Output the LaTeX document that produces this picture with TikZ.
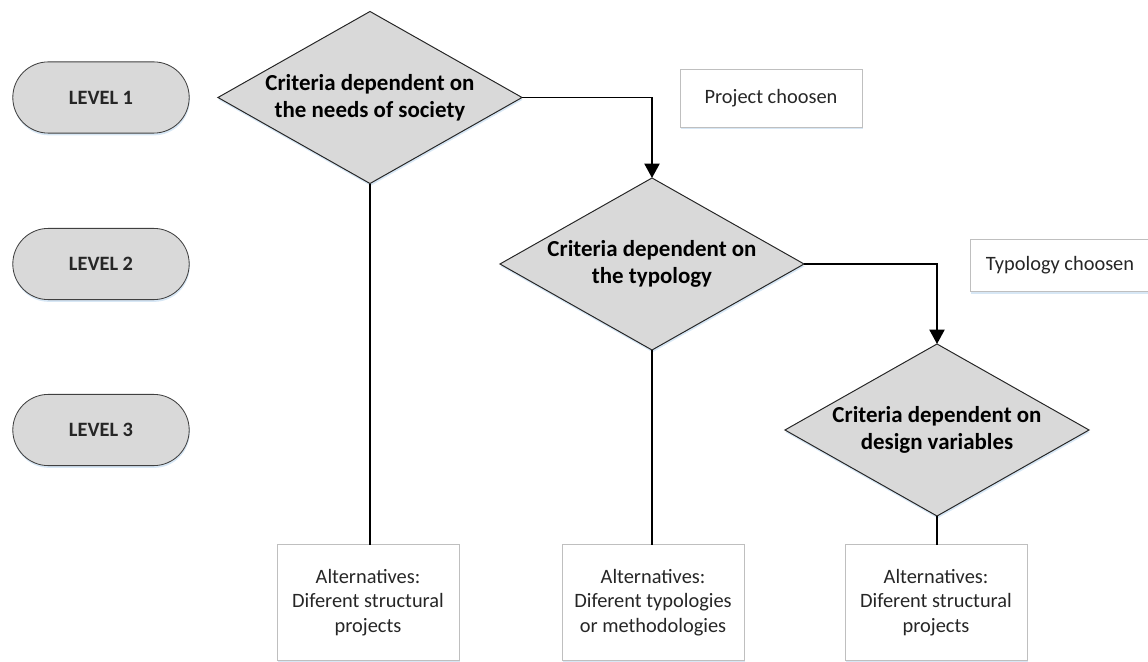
\documentclass[tikz,border=0pt]{standalone}
\usepackage{fontspec}
\setmainfont{Carlito}
\usepackage{tikz}
\usetikzlibrary{shapes,arrows.meta,positioning,shadows}
\definecolor{boxgray}{RGB}{217,217,217}
\definecolor{framegray}{RGB}{191,191,191}
\definecolor{shadowblue}{RGB}{189,215,238}
\definecolor{textgray}{RGB}{38,38,38}

\begin{document}
\begin{tikzpicture}[x=0.025cm,y=-0.025cm,outer sep=0pt,inner sep=2pt,font=\fontsize{14.5}{17.5}\selectfont,text=textgray]
        \tikzset{softshadow/.style={drop shadow={shadow xshift=0.4pt,shadow yshift=-1.6pt,fill=shadowblue,opacity=0.6}}}
        \tikzset{level/.style={shape=rounded rectangle,minimum height=1.78cm,minimum width=4.55cm,draw=black!75,line width=0.6pt,fill=boxgray,font=\fontsize{14.5}{17.5}\selectfont\bfseries,softshadow}}
        \tikzset{criteria/.style={shape=diamond,aspect=1.77,minimum height=4.3cm,minimum width=7.6cm,inner sep=0pt,align=center,draw=black!85,line width=0.7pt,fill=boxgray,text=black,font=\fontsize{16.3}{19.5}\selectfont\bfseries,softshadow}}
        \tikzset{note/.style={shape=rectangle,align=center,draw=framegray,line width=0.6pt,fill=white,softshadow}}
        \tikzset{link/.style={draw=black,line width=1.2pt}}
        \tikzset{choice/.style={link,-{Triangle[length=0.36cm,width=0.38cm]}}}

        \useasboundingbox (0,0) rectangle (1148,662);

        % levels on the left
        \node [level] (level1) at (101,97.5) {LEVEL 1};
        \node [level] (level2) at (101,264) {LEVEL 2};
        \node [level] (level3) at (101,430) {LEVEL 3};

        % decisions
        \node [criteria] (society) at (370,97.5) {Criteria dependent on\\the needs of society};
        \node [criteria] (typology) at (652,264) {Criteria dependent on\\the typology};
        \node [criteria] (design) at (937,430) {Criteria dependent on\\design variables};

        \node [note,minimum width=4.55cm,minimum height=1.43cm] (project) at (771,98.5) {Project choosen};
        \node [note,minimum width=4.5cm,minimum height=1.3cm] (chosen) at (1060,265.5) {Typology choosen};

        % alternatives at the bottom
        \node [note,minimum width=4.55cm,minimum height=2.88cm] (alt-society) at (368,602.5) {Alternatives:\\Diferent structural\\projects};
        \node [note,minimum width=4.55cm,minimum height=2.88cm] (alt-typology) at (653,602.5) {Alternatives:\\Diferent typologies\\or methodologies};
        \node [note,minimum width=4.55cm,minimum height=2.88cm] (alt-design) at (936,602.5) {Alternatives:\\Diferent structural\\projects};

        \draw [choice] (society.east) -| (typology.north);
        \draw [choice] (typology.east) -| (design.north);
        \draw [link] (society.south) -- (society.south |- alt-society.north);
        \draw [link] (typology.south) -- (typology.south |- alt-typology.north);
        \draw [link] (design.south) -- (design.south |- alt-design.north);

    \end{tikzpicture}
\end{document}
